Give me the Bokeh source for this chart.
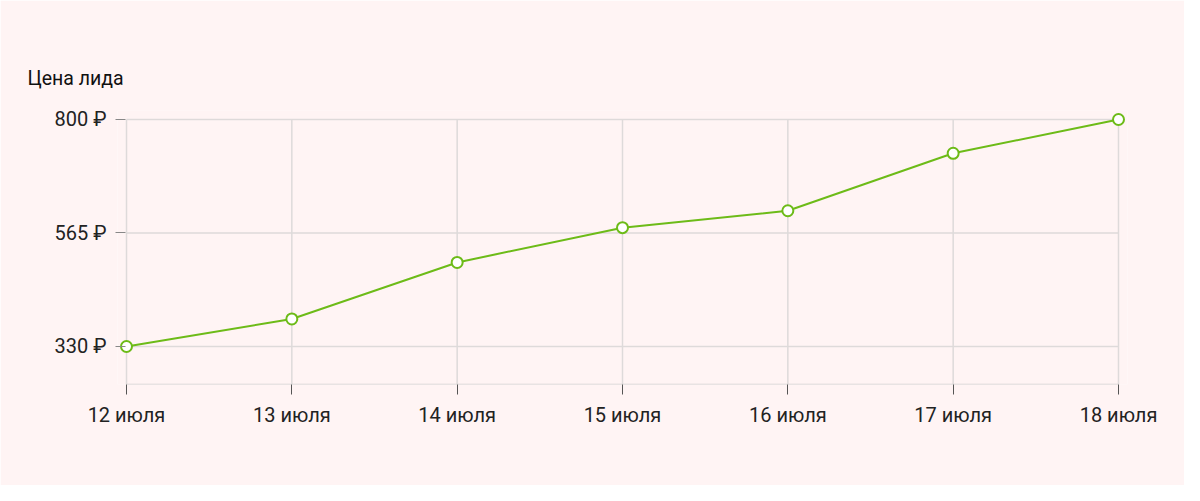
from bokeh.plotting import figure
from bokeh.models import Range1d, FixedTicker, Title, ColumnDataSource
from bokeh.embed import file_html
from bokeh.resources import INLINE

# ---- data ----
days = [12, 13, 14, 15, 16, 17, 18]
day_labels = ["12 июля", "13 июля", "14 июля", "15 июля", "16 июля", "17 июля", "18 июля"]
prices = [330, 387, 504, 576, 611, 730, 800]
y_ticks = [330, 565, 800]
y_tick_labels = ["330 ₽", "565 ₽", "800 ₽"]
title_text = "Цена лида"

BG = "#fff4f4"
GREEN = "#6dbb18"
GRID = "#dedada"
FONT = "Roboto"

y_bottom = 251.3
p = figure(width=1184, height=485, output_backend="svg", toolbar_location=None,
           x_range=Range1d(11.9456, 18.0544), y_range=Range1d(y_bottom, 818.6),
           min_border_left=117, min_border_right=57, min_border_top=110, min_border_bottom=101)
p.background_fill_color = BG
p.border_fill_color = BG
p.outline_line_color = None
p.xgrid.visible = False
p.ygrid.visible = False

# manual grid lines, limited to data extent
p.segment(x0=[days[0]] * len(y_ticks), x1=[days[-1]] * len(y_ticks), y0=y_ticks, y1=y_ticks,
          line_color=GRID, line_width=1.5)
p.segment(x0=days, x1=days, y0=[y_bottom] * len(days), y1=[max(y_ticks)] * len(days),
          line_color=GRID, line_width=1.5)
# baseline
p.segment(x0=[days[0]], x1=[days[-1]], y0=[y_bottom], y1=[y_bottom], line_color="#d2cfcf", line_width=1.5)

src = ColumnDataSource(dict(x=days, y=prices))
p.line("x", "y", source=src, line_color=GREEN, line_width=2)
p.scatter("x", "y", source=src, size=11, fill_color="white", line_color=GREEN, line_width=2)

# axes
p.xaxis.ticker = FixedTicker(ticks=days)
p.xaxis.major_label_overrides = {d: l for d, l in zip(days, day_labels)}
p.xaxis.axis_line_color = None
p.xaxis.major_tick_out = 10
p.xaxis.major_tick_in = 0
p.xaxis.major_tick_line_color = "#555555"
p.xaxis.minor_tick_line_color = None
p.xaxis.major_label_standoff = 8
p.xaxis.major_label_text_font = FONT
p.xaxis.major_label_text_font_size = "20px"
p.xaxis.major_label_text_color = "#222222"

p.yaxis.ticker = FixedTicker(ticks=y_ticks)
p.yaxis.major_label_overrides = {t: l for t, l in zip(y_ticks, y_tick_labels)}
p.yaxis.axis_line_color = None
p.yaxis.major_tick_out = 2
p.yaxis.major_tick_in = 8
p.yaxis.major_tick_line_color = "#888888"
p.yaxis.minor_tick_line_color = None
p.yaxis.major_label_standoff = 9
p.yaxis.major_label_text_font = FONT
p.yaxis.major_label_text_font_size = "20px"
p.yaxis.major_label_text_color = "#222222"

p.add_layout(Title(text=title_text, align="left", offset=-90, standoff=41,
                   text_font=FONT, text_font_size="19.5px", text_font_style="normal",
                   text_color="#111111"), "above")

open("out.html", "w").write(file_html(p, INLINE))
